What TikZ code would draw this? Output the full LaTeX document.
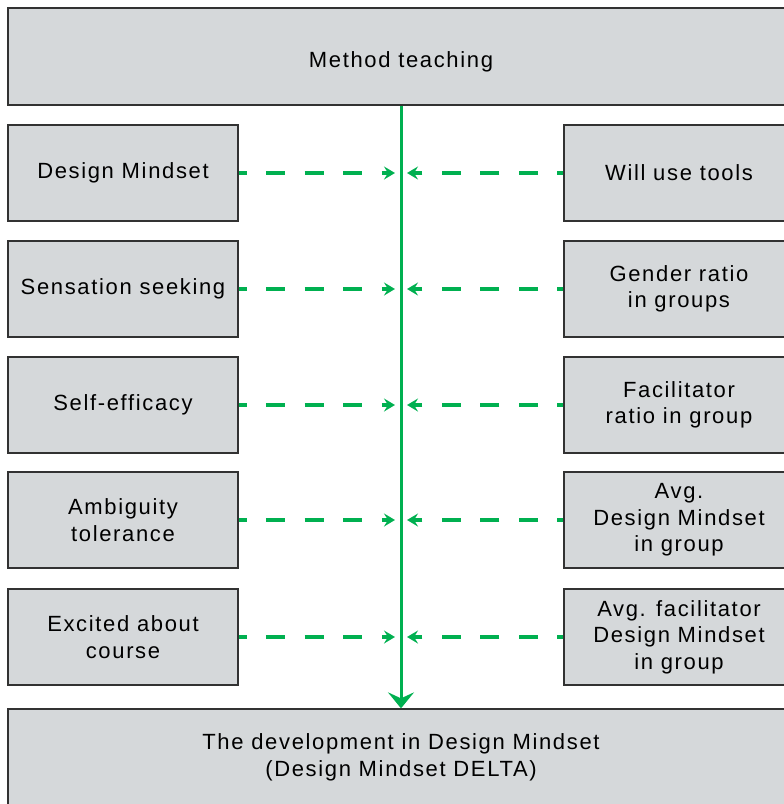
\documentclass[tikz,border=0pt]{standalone}
\usepackage{fontspec}
\setmainfont[LetterSpace=7.5]{Liberation Sans}
\usepackage{xcolor}
\usepackage{tikz}
\usetikzlibrary{arrows.meta}
\definecolor{boxgray}{RGB}{213, 216, 218}
\definecolor{boxline}{RGB}{50, 50, 50}
\definecolor{niceg}{RGB}{0, 176, 80}

\begin{document}
\begin{tikzpicture}[x = 1pt, y = -1pt,
	box/.style = {rectangle, draw = boxline, line width = 1.3pt, fill = boxgray, inner sep = 0pt, align = center, font = \fontsize{22}{26.5}\selectfont},
	wide/.style = {box, minimum width = 786pt, minimum height = 97pt},
	side/.style = {box, minimum width = 230pt, minimum height = 96pt},
	main/.style = {draw = niceg, line width = 3pt, -{Stealth[length = 16pt, width = 26pt, inset = 6pt]}},
	feed/.style = {draw = niceg, line width = 4pt, dash pattern = on 19.3pt off 19.3pt, shorten > = 6pt, -{Stealth[length = 11pt, width = 13pt, inset = 4pt]}}]
			\useasboundingbox (0,0) rectangle (784,804);
			\clip (0,0) rectangle (784,804);
			\node (teach) at (401,56.5) [wide, text depth = 0pt, text height = 21.6pt] {Method teaching};
			\node (delta) at (401,757.5) [wide] {The development in Design Mindset\\(Design Mindset DELTA)};
			\node (dm) at (123,173) [side] {Design Mindset};
			\node (sens) at (123,289) [side] {Sensation seeking};
			\node (eff) at (123,405) [side] {Self-efficacy};
			\node (amb) at (123,520) [side] {Ambiguity\\tolerance};
			\node (exc) at (123,637) [side] {Excited about\\course};
			\node (tools) at (679,173) [side] {Will use tools};
			\node (gender) at (679,289) [side] {Gender ratio\\in groups};
			\node (facil) at (679,405) [side] {Facilitator\\ratio in group};
			\node (avgdm) at (679,520) [side] {Avg.\\Design Mindset\\in group};
			\node (avgfac) at (679,637) [side] {Avg. facilitator\\Design Mindset\\in group};
			\draw[main] (teach) -- (delta);
			\draw[feed, dash phase = 11.3pt] (dm) -- (dm -| teach);
			\draw[feed, dash phase = 11.3pt] (sens) -- (sens -| teach);
			\draw[feed, dash phase = 11.3pt] (eff) -- (eff -| teach);
			\draw[feed, dash phase = 11.3pt] (amb) -- (amb -| teach);
			\draw[feed, dash phase = 11.3pt] (exc) -- (exc -| teach);
			\draw[feed, dash phase = 13.3pt] (tools) -- (tools -| teach);
			\draw[feed, dash phase = 13.3pt] (gender) -- (gender -| teach);
			\draw[feed, dash phase = 13.3pt] (facil) -- (facil -| teach);
			\draw[feed, dash phase = 13.3pt] (avgdm) -- (avgdm -| teach);
			\draw[feed, dash phase = 13.3pt] (avgfac) -- (avgfac -| teach);
\end{tikzpicture}
\end{document}
